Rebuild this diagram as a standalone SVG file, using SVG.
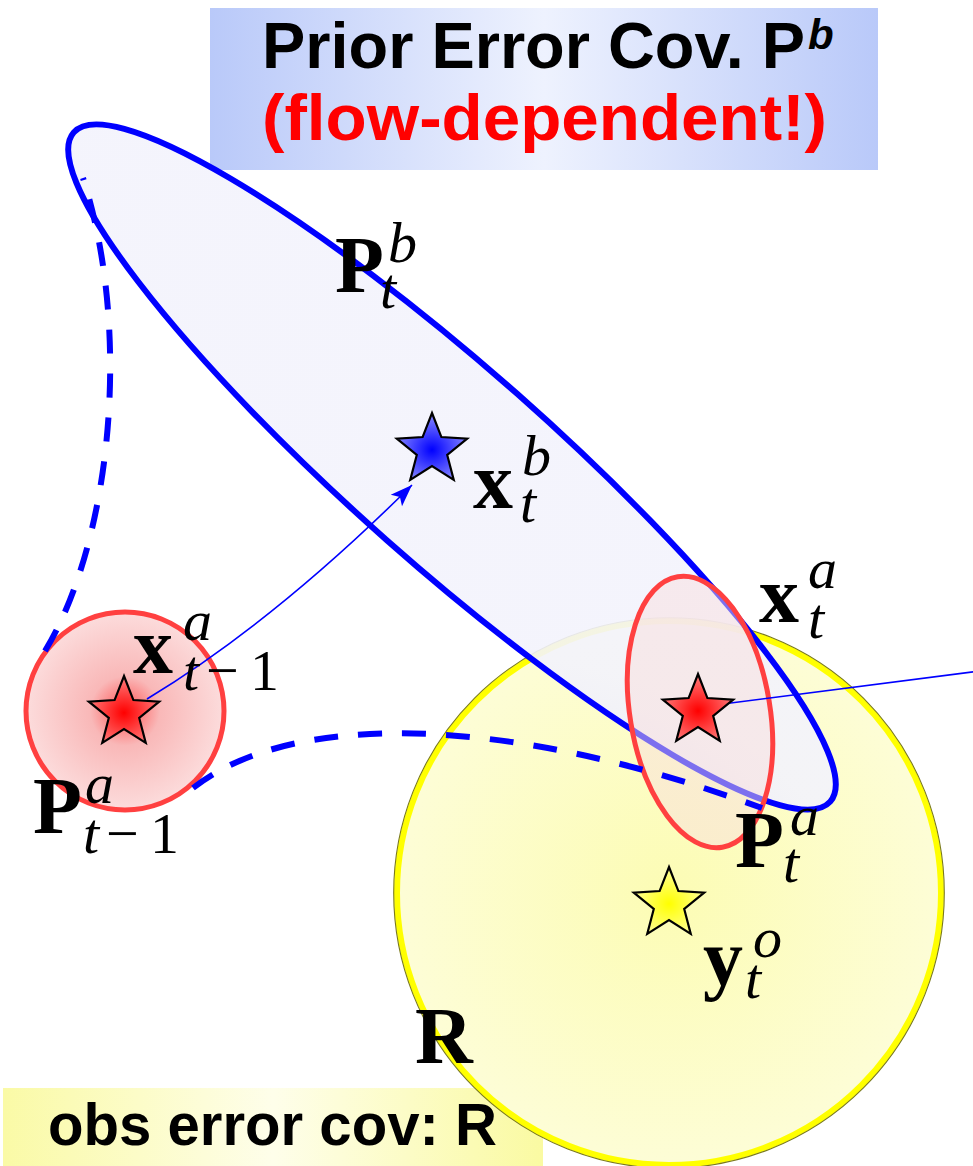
<svg xmlns="http://www.w3.org/2000/svg" xmlns:xlink="http://www.w3.org/1999/xlink" width="973" height="1166" viewBox="0 0 973 1166">
  <style>
    .sans { font-family: "Liberation Sans", "DejaVu Sans", sans-serif; font-weight: bold; }
    .m { font-family: "Liberation Serif", "DejaVu Serif", serif; fill: #000; }
    .mb { font-weight: bold; font-size: 80px; }
    .ms { font-style: italic; font-size: 58px; }
    .dash { fill: none; stroke: #0000ff; stroke-width: 6; stroke-dasharray: 24 20; }
    .arrow { fill: none; stroke: #0000ff; stroke-width: 1.6; }
  </style>
  <defs>
    <linearGradient id="gTitle" x1="0" y1="0" x2="1" y2="0">
      <stop offset="0" stop-color="#b9c9f9"/>
      <stop offset="0.5" stop-color="#eef2fe"/>
      <stop offset="1" stop-color="#b9c9f9"/>
    </linearGradient>
    <linearGradient id="gObs" x1="0" y1="0" x2="1" y2="0">
      <stop offset="0" stop-color="#fafaa6"/>
      <stop offset="0.5" stop-color="#fefeea"/>
      <stop offset="1" stop-color="#fafaa2"/>
    </linearGradient>
    <radialGradient id="gYellow" cx="0.5" cy="0.5" r="0.5">
      <stop offset="0" stop-color="#fcfcb4"/>
      <stop offset="1" stop-color="#fdfdd6"/>
    </radialGradient>
    <radialGradient id="gBlueEll" gradientUnits="userSpaceOnUse" cx="432" cy="452" r="440">
      <stop offset="0" stop-color="#b4b4f4" stop-opacity="0.95"/>
      <stop offset="0.15" stop-color="#d0d0f7" stop-opacity="0.92"/>
      <stop offset="0.45" stop-color="#e2e2f9" stop-opacity="0.9"/>
      <stop offset="1" stop-color="#f3f3fc" stop-opacity="0.9"/>
    </radialGradient>
    <radialGradient id="gRedCirc" cx="0.5" cy="0.5" r="0.5">
      <stop offset="0" stop-color="#ff5050"/>
      <stop offset="0.35" stop-color="#f9b8b8"/>
      <stop offset="1" stop-color="#fcdcdc"/>
    </radialGradient>
    <radialGradient id="gRedEll" gradientUnits="userSpaceOnUse" cx="698" cy="711" r="140">
      <stop offset="0" stop-color="#ff4040" stop-opacity="0.9"/>
      <stop offset="0.35" stop-color="#f6b0b0" stop-opacity="0.55"/>
      <stop offset="1" stop-color="#f8dede" stop-opacity="0.5"/>
    </radialGradient>
    <radialGradient id="sRed" cx="0.5" cy="0.55" r="0.5">
      <stop offset="0" stop-color="#ff0000"/>
      <stop offset="1" stop-color="#ff7474"/>
    </radialGradient>
    <radialGradient id="sBlue" cx="0.5" cy="0.55" r="0.5">
      <stop offset="0" stop-color="#0000ff"/>
      <stop offset="1" stop-color="#8080ff"/>
    </radialGradient>
    <radialGradient id="sYellow" cx="0.5" cy="0.55" r="0.5">
      <stop offset="0" stop-color="#ffff00"/>
      <stop offset="1" stop-color="#ffff90"/>
    </radialGradient>
    <path id="star" d="M0,-37 L9.4,-12.94 L35.19,-11.43 L15.22,4.94 L21.75,29.93 L0,16 L-21.75,29.93 L-15.22,4.94 L-35.19,-11.43 L-9.4,-12.94 Z" stroke="#000" stroke-width="2.2" stroke-linejoin="miter"/>
    <marker id="ah" markerUnits="userSpaceOnUse" markerWidth="24" markerHeight="18" refX="22" refY="9" orient="auto">
      <path d="M0,1 L22,9 L0,17 L5,9 Z" fill="#0000ff"/>
    </marker>
  </defs>

  <rect width="973" height="1166" fill="#ffffff"/>

  <g id="title-box">
    <rect x="210" y="8" width="668" height="162" fill="url(#gTitle)"/>
    <text class="sans" x="262" y="68" font-size="64" fill="#000" textLength="543" lengthAdjust="spacingAndGlyphs">Prior Error Cov. P</text>
    <text class="sans" x="808" y="49" font-size="42" font-style="italic" fill="#000">b</text>
    <text class="sans" x="262" y="140" font-size="64" fill="#ff0000" textLength="565" lengthAdjust="spacingAndGlyphs">(flow-dependent!)</text>
  </g>

  <g id="obs-box">
    <rect x="3" y="1088" width="540" height="78" fill="url(#gObs)"/>
    <text class="sans" x="48" y="1145" font-size="60" fill="#000" textLength="449" lengthAdjust="spacingAndGlyphs">obs error cov: R</text>
  </g>

  <g id="obs-error-R">
    <circle cx="669" cy="893" r="272" fill="url(#gYellow)" stroke="#ffff00" stroke-width="6"/>
    <circle cx="669" cy="893" r="275.3" fill="none" stroke="#7a7a1a" stroke-width="1.1"/>
  </g>

  <g id="prior-Pb">
    <ellipse cx="0" cy="0" rx="505" ry="98" transform="translate(452,467) rotate(41.5)" fill="url(#gBlueEll)" stroke="#0000ff" stroke-width="6"/>
  </g>

  <g id="analysis-prev">
    <circle cx="125" cy="711" r="99" fill="url(#gRedCirc)" stroke="#ff4040" stroke-width="5"/>
  </g>

  <g id="analysis-Pa">
    <ellipse cx="0" cy="0" rx="70" ry="137" transform="translate(700,712) rotate(-9.4)" fill="url(#gRedEll)" stroke="#ff4040" stroke-width="5"/>
  </g>

  <g id="connectors">
    <path class="dash" d="M45,651 C112,540 132,330 83,178"/>
    <path class="dash" d="M193,788 C290,712 500,712 762,808"/>
    <path class="arrow" d="M147,699 Q274,622 412,485" marker-end="url(#ah)"/>
    <path class="arrow" d="M715,705 L980,671"/>
  </g>

  <g id="star-xa-prev"><use xlink:href="#star" href="#star" x="124" y="713" fill="url(#sRed)"/></g>
  <g id="star-xb"><use xlink:href="#star" href="#star" x="432" y="450" fill="url(#sBlue)"/></g>
  <g id="star-xa"><use xlink:href="#star" href="#star" x="698" y="711" fill="url(#sRed)"/></g>
  <g id="star-yo"><use xlink:href="#star" href="#star" x="669" y="904" fill="url(#sYellow)"/></g>

  <g id="labels">
    <g id="label-Pb">
      <text class="m mb" x="335" y="292">P</text>
      <text class="m ms" x="388" y="262">b</text>
      <text class="m ms" x="380" y="308">t</text>
    </g>
    <g id="label-xb">
      <text class="m mb" x="473" y="508">x</text>
      <text class="m ms" x="522" y="475">b</text>
      <text class="m ms" x="520" y="522">t</text>
    </g>
    <g id="label-xa">
      <text class="m mb" x="759" y="622">x</text>
      <text class="m ms" x="808" y="588">a</text>
      <text class="m ms" x="808" y="638">t</text>
    </g>
    <g id="label-xa-prev">
      <text class="m mb" x="133" y="673">x</text>
      <text class="m ms" x="183" y="640">a</text>
      <text class="m ms" y="690"><tspan x="183">t</tspan><tspan x="206" font-style="normal">−</tspan><tspan x="250" font-style="normal">1</tspan></text>
    </g>
    <g id="label-Pa-prev">
      <text class="m mb" x="33" y="833">P</text>
      <text class="m ms" x="85" y="803">a</text>
      <text class="m ms" y="853"><tspan x="83">t</tspan><tspan x="106" font-style="normal">−</tspan><tspan x="150" font-style="normal">1</tspan></text>
    </g>
    <g id="label-Pa">
      <text class="m mb" x="735" y="867">P</text>
      <text class="m ms" x="790" y="835">a</text>
      <text class="m ms" x="783" y="882">t</text>
    </g>
    <g id="label-yo">
      <text class="m mb" x="703" y="985">y</text>
      <text class="m ms" x="753" y="957">o</text>
      <text class="m ms" x="745" y="998">t</text>
    </g>
    <g id="label-R">
      <text class="m mb" x="415" y="1063">R</text>
    </g>
  </g>
</svg>
